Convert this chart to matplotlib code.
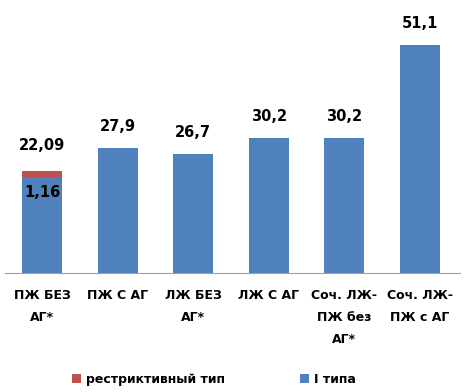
import matplotlib.pyplot as plt
import numpy as np

categories = ['ПЖ БЕЗ\nАГ*', 'ПЖ С АГ', 'ЛЖ БЕЗ\nАГ*', 'ЛЖ С АГ',
              'Соч. ЛЖ-\nПЖ без\nАГ*', 'Соч. ЛЖ-\nПЖ с АГ']
type1 = [21.6, 27.9, 26.7, 30.2, 30.2, 51.1]
restrictive = [1.16, 0, 0, 0, 0, 0]
top_labels = ['22,09', '27,9', '26,7', '30,2', '30,2', '51,1']

blue = '#4F81BD'
red = '#C0504D'

plt.rcParams['font.family'] = ['Liberation Sans Narrow', 'DejaVu Sans']

fig = plt.figure(figsize=(4.68, 3.92), dpi=100)
ax = fig.add_axes([0.011, 0.304, 0.972, 0.645])

x = np.arange(len(categories))
ax.bar(x, type1, width=0.53, color=blue, label='I типа')
ax.bar(x, restrictive, width=0.53, bottom=type1, color=red, label='рестриктивный тип')

totals = [a + b for a, b in zip(type1, restrictive)]
offsets = [4.2, 3.2, 3.2, 3.2, 3.2, 3.2]
for xi, t, lab, off in zip(x, totals, top_labels, offsets):
    ax.text(xi, t + off, lab, ha='center', va='bottom', fontsize=10.5, fontweight='bold')
ax.text(x[0], type1[0] - 2.0, '1,16', ha='center', va='top', fontsize=10.5, fontweight='bold')

ax.set_xlim(-0.49, 5.53)
ax.set_ylim(0, 56.7)
ax.set_yticks([])
ax.set_xticks(x)
ax.set_xticklabels(categories, fontsize=9, fontweight='bold', linespacing=1.9)
ax.tick_params(axis='x', length=0, pad=12)
for s in ['top', 'right', 'left']:
    ax.spines[s].set_visible(False)
ax.spines['bottom'].set_color('#A0A0A0')

handles, labels = ax.get_legend_handles_labels()
fig.legend(handles[::-1], labels[::-1], loc='center', bbox_to_anchor=(0.457, 0.033),
           ncol=2, frameon=False, prop={'size': 9, 'weight': 'bold'},
           handlelength=0.7, handleheight=0.7, handletextpad=0.4, columnspacing=6.0)

fig.savefig('out.png', dpi=100)
